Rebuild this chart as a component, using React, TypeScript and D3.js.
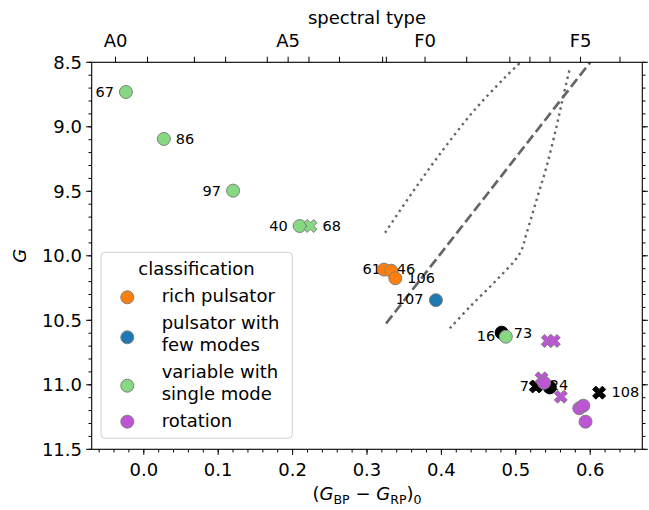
import React from 'react';
import * as d3 from 'd3';

// stars: id, dereddened colour, G magnitude, class, marker
const STAR_IDS = ['16', '72', '24', '108', '67', '86', '97', '40', '68', '61', '46', '106', '107', '73', '', '', '', '', '', '', '', ''];
const BP_RP0 = [0.481, 0.527, 0.5457, 0.612, -0.024, 0.027, 0.12, 0.2095, 0.224, 0.3228, 0.3327, 0.3381, 0.3926, 0.4866, 0.543, 0.551, 0.5346, 0.538, 0.5605, 0.5853, 0.5907, 0.5937];
const G_MAG = [10.596, 11.013, 11.02, 11.061, 8.73, 9.094, 9.495, 9.769, 9.769, 10.107, 10.116, 10.174, 10.344, 10.627, 10.66, 10.66, 10.95, 10.984, 11.092, 11.182, 11.162, 11.286];
const STAR_CLASS = ['none', 'none', 'none', 'none', 'single', 'single', 'single', 'single', 'single', 'rich', 'rich', 'rich', 'few', 'single', 'rot', 'rot', 'rot', 'rot', 'rot', 'rot', 'rot', 'rot'];
const STAR_MARKER = ['o', 'X', 'o', 'X', 'o', 'o', 'o', 'o', 'X', 'o', 'o', 'o', 'o', 'o', 'X', 'X', 'X', 'o', 'X', 'o', 'o', 'o'];

// legend
const CLASS_KEYS = ['rich', 'few', 'single', 'rot'];
const CLASS_LABELS = [['rich pulsator'], ['pulsator with', 'few modes'], ['variable with', 'single mode'], ['rotation']];

// spectral type scale (top axis)
const SPT_NAMES = ['A0', 'A1', 'A2', 'A3', 'A4', 'A5', 'A6', 'A7', 'A8', 'A9', 'F0', 'F1', 'F2', 'F3', 'F4', 'F5', 'F6'];
const SPT_COLOR = [-0.038, 0.005, 0.068, 0.110, 0.166, 0.194, 0.222, 0.263, 0.321, 0.326, 0.378, 0.434, 0.492, 0.519, 0.546, 0.587, 0.640];
const SPT_LABELLED = ['A0', 'A5', 'F0', 'F5'];

// reference sequences
const MID_LINE_C = [0.3256, 0.600];
const MID_LINE_G = [10.525, 8.5];
const EDGE_BLUE_C = [0.3243, 0.362, 0.402, 0.443, 0.485, 0.512];
const EDGE_BLUE_G = [9.821, 9.50, 9.18, 8.88, 8.62, 8.47];
const EDGE_RED_C = [0.4114, 0.4383, 0.4741, 0.5054, 0.5144, 0.5279, 0.5413, 0.5547, 0.5636, 0.5726];
const EDGE_RED_G = [10.562, 10.395, 10.188, 9.981, 9.826, 9.567, 9.309, 8.999, 8.767, 8.547];

const COLORS: Record<string, string> = {
  rich: '#ff7f0e',
  few: '#1f77b4',
  single: '#86d982',
  rot: '#bd55d4',
  none: '#000000'
};

const LABEL_NUDGE: Record<string, [string, number, number]> = {
  '67': ['end', -12, 0],
  '86': ['start', 12, 0],
  '97': ['end', -12, 0],
  '40': ['end', -12, 0],
  '68': ['start', 12, 0],
  '61': ['end', -3, -1],
  '46': ['start', 5.5, -1.5],
  '106': ['start', 12, -0.5],
  '107': ['end', -12.5, -1],
  '16': ['end', -6.5, 3],
  '73': ['start', 8, -4.4],
  '72': ['end', 2.3, -0.7],
  '24': ['start', 0, -3],
  '108': ['start', 12.4, -0.4]
};

const W = 649, H = 510;
const FONT = 'DejaVu Sans, sans-serif';

function xMarker(size: number) {
  const h = size / 2;
  const pts = [[-0.5, -1], [0, -0.5], [0.5, -1], [1, -0.5], [0.5, 0], [1, 0.5], [0.5, 1], [0, 0.5], [-0.5, 1], [-1, 0.5], [-0.5, 0], [-1, -0.5]];
  return 'M' + pts.map(p => `${p[0] * h},${p[1] * h}`).join('L') + 'Z';
}

export default function App() {
  const left = 91.7, right = 642.3, top = 62.3, bottom = 449.3;
  const x = d3.scaleLinear().domain([-0.07, 0.67]).range([left, right]);
  const y = d3.scaleLinear().domain([8.5, 11.5]).range([top, bottom]);

  const fmt = (v: number) => d3.format('.1f')(Math.abs(v) < 1e-9 ? 0 : v);
  const xMajor = x.ticks(8);
  const xMinor = x.ticks(40);
  const yMajor = y.ticks(6);
  const yMinor = y.ticks(30);

  const line = d3.line<[number, number]>().x(d => x(d[0])).y(d => y(d[1]));
  const curve = d3.line<[number, number]>().x(d => x(d[0])).y(d => y(d[1])).curve(d3.curveCatmullRom);
  const midLine = line(MID_LINE_C.map((c, i) => [c, MID_LINE_G[i]]));
  const blueEdge = curve(EDGE_BLUE_C.map((c, i) => [c, EDGE_BLUE_G[i]]));
  const redEdge = curve(EDGE_RED_C.map((c, i) => [c, EDGE_RED_G[i]]));

  const stars = STAR_IDS.map((id, i) => ({
    id, c: BP_RP0[i], g: G_MAG[i], cls: STAR_CLASS[i], marker: STAR_MARKER[i]
  }));

  const msize = 13;
  const edge = (cls: string) => (cls === 'none' ? '#000' : '#808080');

  const drawMarker = (s: { cls: string; marker: string }, cx: number, cy: number, key: string) =>
    s.marker === 'X' ? (
      <path key={key} d={xMarker(msize)} transform={`translate(${cx},${cy})`}
        fill={COLORS[s.cls]} stroke={edge(s.cls)} strokeWidth={1} />
    ) : (
      <circle key={key} cx={cx} cy={cy} r={msize / 2} fill={COLORS[s.cls]}
        stroke={edge(s.cls)} strokeWidth={1} />
    );

  const legendLines = [301.5, 329, 378.3, 427.3];
  const legendMarkY = [297.3, 337.3, 385.7, 421.7];

  return (
    <svg width={W} height={H} style={{ position: 'absolute', left: 0, top: 0, background: '#fff' }}
      fontFamily={FONT}>
      <defs>
        <clipPath id="plot-clip">
          <rect x={left} y={top} width={right - left} height={bottom - top} />
        </clipPath>
      </defs>

      {/* reference lines */}
      <g clipPath="url(#plot-clip)" fill="none" stroke="#666">
        <path d={midLine || ''} strokeWidth={2.7} strokeDasharray="10 4.3" />
        <path d={blueEdge || ''} strokeWidth={2.4} strokeDasharray="2.4 3.9" />
        <path d={redEdge || ''} strokeWidth={2.4} strokeDasharray="2.4 3.9" />
      </g>

      {/* star labels (under markers) */}
      <g fontSize={14.5} fill="#000">
        {stars.filter(s => s.id).map(s => {
          const [anchor, dx, dy] = LABEL_NUDGE[s.id];
          return (
            <text key={'t' + s.id} x={x(s.c) + dx} y={y(s.g) + dy} dy="0.36em" textAnchor={anchor}>{s.id}</text>
          );
        })}
      </g>

      {/* markers */}
      <g>
        {stars.map((s, i) => drawMarker(s, x(s.c), y(s.g), 'm' + i))}
      </g>

      {/* spines */}
      <rect x={left} y={top} width={right - left} height={bottom - top} fill="none" stroke="#000" strokeWidth={1.1} />

      {/* ticks */}
      <g stroke="#000" strokeWidth={1}>
        {xMinor.map((v, i) => <line key={'xm' + i} x1={x(v)} x2={x(v)} y1={bottom} y2={bottom + 3.2} />)}
        {xMajor.map((v, i) => <line key={'xM' + i} x1={x(v)} x2={x(v)} y1={bottom} y2={bottom + 5.6} />)}
        {yMinor.map((v, i) => (
          <g key={'ym' + i}>
            <line x1={left} x2={left - 3.2} y1={y(v)} y2={y(v)} />
            <line x1={right} x2={right + 3.2} y1={y(v)} y2={y(v)} />
          </g>
        ))}
        {yMajor.map((v, i) => (
          <g key={'yM' + i}>
            <line x1={left} x2={left - 5.6} y1={y(v)} y2={y(v)} />
            <line x1={right} x2={right + 5.6} y1={y(v)} y2={y(v)} />
          </g>
        ))}
        {SPT_COLOR.map((v, i) => <line key={'st' + i} x1={x(v)} x2={x(v)} y1={top} y2={top - 5.6} />)}
      </g>

      <g fontSize={18} fill="#000">
        {xMajor.map((v, i) => (
          <text key={'xl' + i} x={x(v)} y={476} textAnchor="middle">{fmt(v)}</text>
        ))}
        {yMajor.map((v, i) => (
          <text key={'yl' + i} x={82} y={y(v)} dy="0.36em" textAnchor="end">{fmt(v)}</text>
        ))}
        {SPT_NAMES.map((n, i) => SPT_LABELLED.includes(n) ? (
          <text key={'sl' + i} x={x(SPT_COLOR[i])} y={46.7} textAnchor="middle">{n}</text>
        ) : null)}
        <text x={(left + right) / 2} y={23.5} textAnchor="middle">spectral type</text>
        <text transform={`translate(25.5,${(top + bottom) / 2}) rotate(-90)`} textAnchor="middle" fontStyle="italic">G</text>
        <text x={(left + right) / 2} y={500} textAnchor="middle">
          <tspan>(</tspan>
          <tspan fontStyle="italic">G</tspan>
          <tspan fontSize={12.6} dy={3.6}>BP</tspan>
          <tspan dy={-3.6}> − </tspan>
          <tspan fontStyle="italic">G</tspan>
          <tspan fontSize={12.6} dy={3.6}>RP</tspan>
          <tspan dy={-3.6}>)</tspan>
          <tspan fontSize={12.6} dy={3.6}>0</tspan>
        </text>
      </g>

      {/* legend */}
      <g>
        <rect x={101} y={252.3} width={191.3} height={186} rx={4} fill="#fff" fillOpacity={0.8} stroke="#d0d0d0" strokeWidth={1} />
        <text x={196.5} y={275} fontSize={18} textAnchor="middle">classification</text>
        {CLASS_KEYS.map((k, i) => (
          <g key={'lg' + k}>
            {drawMarker({ cls: k, marker: 'o' }, 127.3, legendMarkY[i], 'lm' + k)}
            <text x={161.7} y={legendLines[i]} fontSize={18}>
              {CLASS_LABELS[i].map((t, j) => (
                <tspan key={j} x={161.7} dy={j === 0 ? 0 : 21.5}>{t}</tspan>
              ))}
            </text>
          </g>
        ))}
      </g>
    </svg>
  );
}
